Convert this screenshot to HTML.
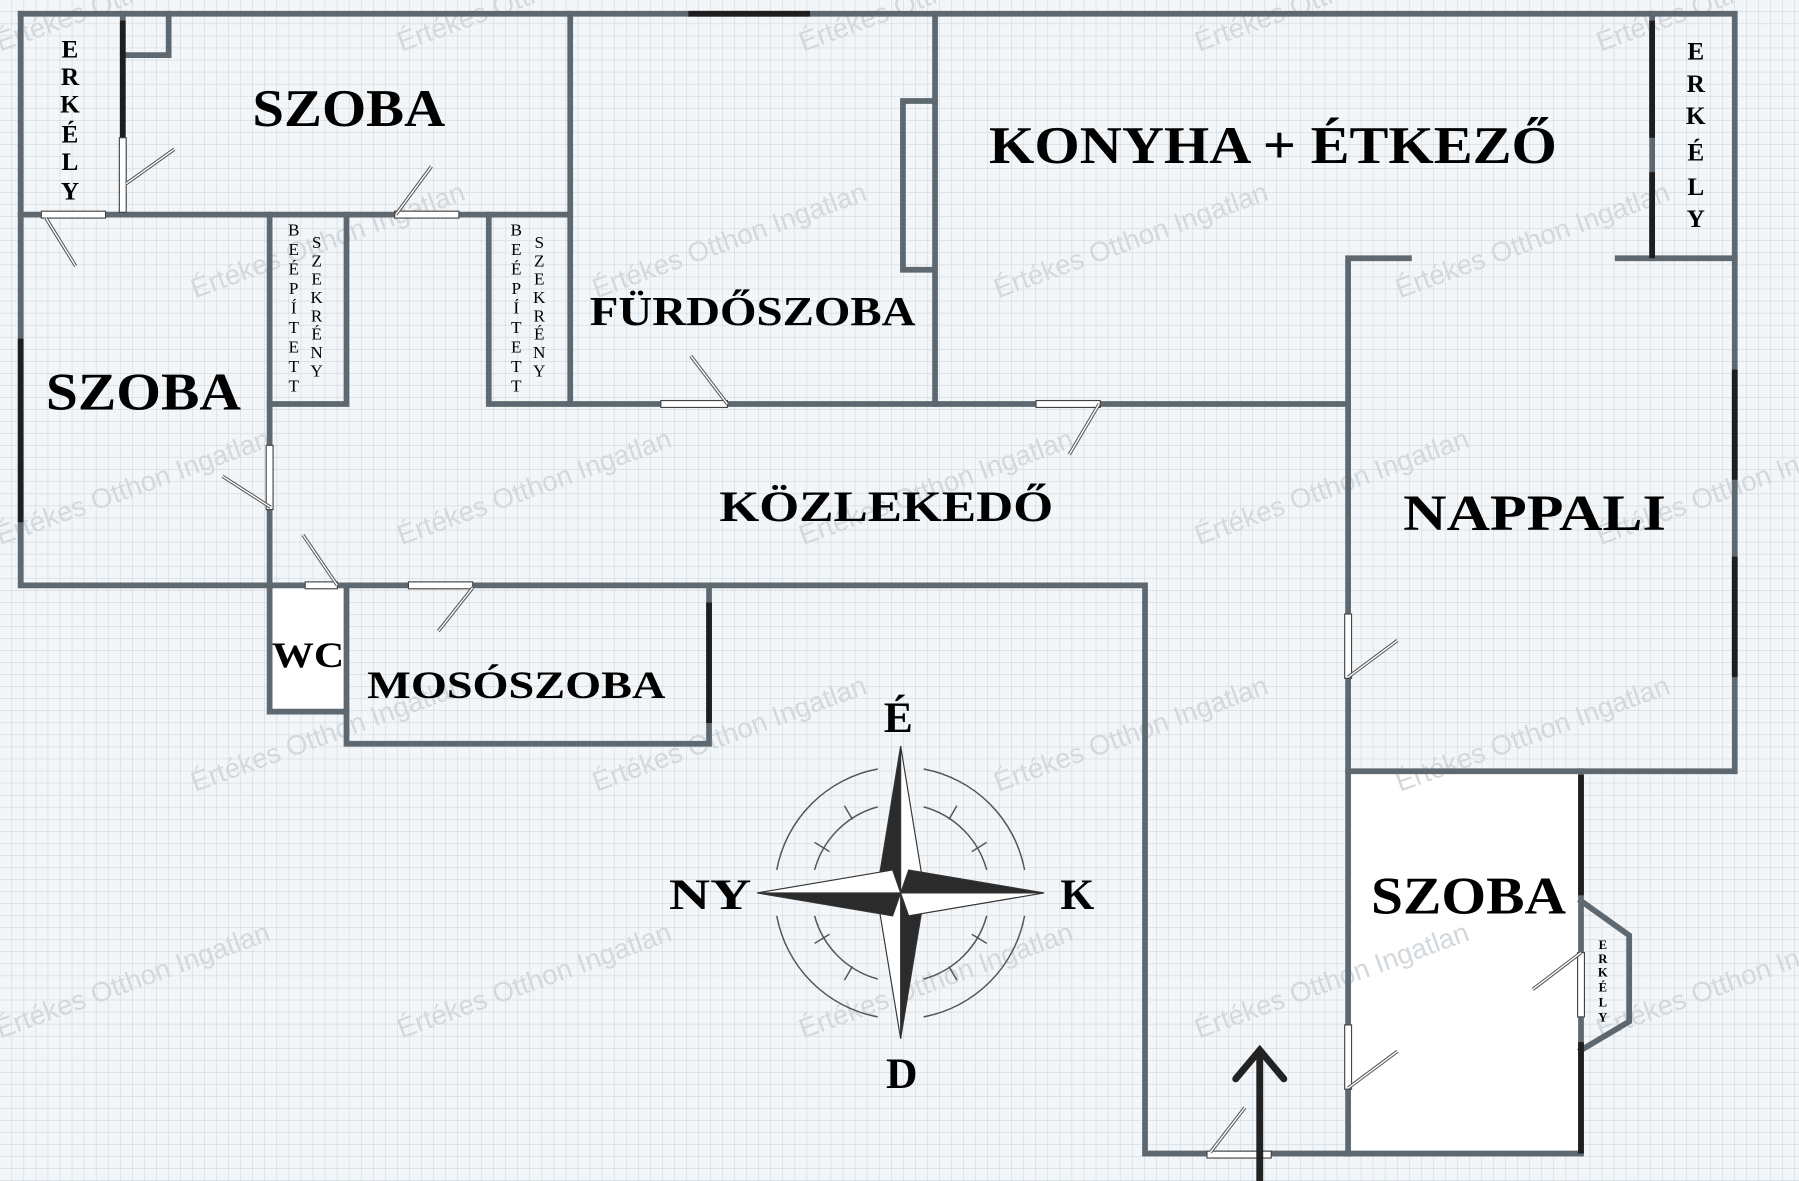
<!DOCTYPE html>
<html><head><meta charset="utf-8"><style>
html,body{margin:0;padding:0;background:#f3f6f8;}
svg{display:block}
.t{font-family:"Liberation Serif",serif;font-weight:bold;fill:#000}
.wm{font-family:"Liberation Sans",sans-serif;font-weight:normal;fill:#d3d8dc;font-size:24px}
</style></head><body>
<svg width="1799" height="1181" viewBox="0 0 1568 1029" preserveAspectRatio="none" xmlns="http://www.w3.org/2000/svg">
<defs>
<pattern id="g" width="10.5" height="10.5" patternUnits="userSpaceOnUse">
<rect width="10.5" height="10.5" fill="#f3f6f8"/>
<path d="M10.5 0V10.5H0" fill="none" stroke="#c5cfd6" stroke-width="0.8"/>
</pattern>
</defs>
<rect width="1568" height="1029" fill="url(#g)"/>
<rect x="1175" y="672" width="203" height="333" fill="#fff"/>
<rect x="235" y="510" width="67" height="110" fill="#fff"/>
<g class="wm">
<text x="0" y="45" transform="rotate(-20 0 45)">Értékes Otthon Ingatlan</text>
<text x="350" y="45" transform="rotate(-20 350 45)">Értékes Otthon Ingatlan</text>
<text x="700" y="45" transform="rotate(-20 700 45)">Értékes Otthon Ingatlan</text>
<text x="1045" y="45" transform="rotate(-20 1045 45)">Értékes Otthon Ingatlan</text>
<text x="1395" y="45" transform="rotate(-20 1395 45)">Értékes Otthon Ingatlan</text>
<text x="170" y="260" transform="rotate(-20 170 260)">Értékes Otthon Ingatlan</text>
<text x="520" y="260" transform="rotate(-20 520 260)">Értékes Otthon Ingatlan</text>
<text x="870" y="260" transform="rotate(-20 870 260)">Értékes Otthon Ingatlan</text>
<text x="1220" y="260" transform="rotate(-20 1220 260)">Értékes Otthon Ingatlan</text>
<text x="0" y="475" transform="rotate(-20 0 475)">Értékes Otthon Ingatlan</text>
<text x="350" y="475" transform="rotate(-20 350 475)">Értékes Otthon Ingatlan</text>
<text x="700" y="475" transform="rotate(-20 700 475)">Értékes Otthon Ingatlan</text>
<text x="1045" y="475" transform="rotate(-20 1045 475)">Értékes Otthon Ingatlan</text>
<text x="1395" y="475" transform="rotate(-20 1395 475)">Értékes Otthon Ingatlan</text>
<text x="170" y="690" transform="rotate(-20 170 690)">Értékes Otthon Ingatlan</text>
<text x="520" y="690" transform="rotate(-20 520 690)">Értékes Otthon Ingatlan</text>
<text x="870" y="690" transform="rotate(-20 870 690)">Értékes Otthon Ingatlan</text>
<text x="1220" y="690" transform="rotate(-20 1220 690)">Értékes Otthon Ingatlan</text>
<text x="0" y="905" transform="rotate(-20 0 905)">Értékes Otthon Ingatlan</text>
<text x="350" y="905" transform="rotate(-20 350 905)">Értékes Otthon Ingatlan</text>
<text x="700" y="905" transform="rotate(-20 700 905)">Értékes Otthon Ingatlan</text>
<text x="1045" y="905" transform="rotate(-20 1045 905)">Értékes Otthon Ingatlan</text>
<text x="1395" y="905" transform="rotate(-20 1395 905)">Értékes Otthon Ingatlan</text>
</g>
<g fill="none" stroke="#5d6870" stroke-width="5" stroke-linecap="square">
<path d="M18 12H1512V225"/>
<path d="M18 12V510H235"/>
<path d="M107 12V187"/>
<path d="M107 48H147V12"/>
<path d="M18 187H497"/>
<path d="M497 12V352"/>
<path d="M235 187V620H302V510"/>
<path d="M302 187V352H235"/>
<path d="M426 187V352H1175"/>
<path d="M815 12V352"/>
<path d="M812 88H787V235H812"/>
<path d="M1440 12V225"/>
<path d="M1175 1005V225H1228"/>
<path d="M1410 225H1512V672H1175"/>
<path d="M1378 672V1005H998V510H235"/>
<path d="M302 620V648H618V510"/>
<path d="M1378 785L1420 815V890L1378 915"/>
</g>
<g stroke="#1e1e1e" stroke-width="5">
<path d="M18 295V455"/>
<path d="M600 12H706"/>
<path d="M107 18V120"/>
<path d="M1440 18V120M1440 150V225"/>
<path d="M1512 322V418M1512 485V590"/>
<path d="M618 525V630"/>
<path d="M1378 675V780M1378 908V1005"/>
</g>
<g fill="#fff" stroke="#444" stroke-width="1">
<rect x="36" y="184" width="56" height="6"/>
<rect x="104" y="120" width="6" height="65"/>
<rect x="344" y="184" width="56" height="6"/>
<rect x="576" y="349" width="58" height="6"/>
<rect x="903" y="349" width="56" height="6"/>
<rect x="232" y="388" width="6" height="56"/>
<rect x="266" y="507" width="28" height="6"/>
<rect x="356" y="507" width="56" height="6"/>
<rect x="1172" y="535" width="6" height="56"/>
<rect x="1172" y="893" width="6" height="56"/>
<rect x="1375" y="830" width="6" height="56"/>
<rect x="1052" y="1003" width="56" height="6"/>
</g>
<g stroke="#555" stroke-width="3" fill="none">
<path d="M40 190L66 232M110 160L152 130M345 187L376 145M634 352L602 310M958 352L932 396M236 442L194 415M294 510L264 466M412 512L382 550M1175 590L1218 558M1175 948L1218 916M1378 830L1336 862M1055 1004L1085 965"/>
</g>
<g stroke="#fff" stroke-width="1.2" fill="none">
<path d="M40 190L66 232M110 160L152 130M345 187L376 145M634 352L602 310M958 352L932 396M236 442L194 415M294 510L264 466M412 512L382 550M1175 590L1218 558M1175 948L1218 916M1378 830L1336 862M1055 1004L1085 965"/>
</g>
<g stroke="#222" stroke-width="6" fill="none" stroke-linecap="round">
<path d="M1098 1029V915M1077 940L1098 915L1119 940"/>
</g>
<!-- compass rings: arcs avoiding cardinal axes -->
<g fill="none" stroke="#555" stroke-width="1.3">
<path d="M805 670A110 110 0 0 1 893 758"/>
<path d="M893 798A110 110 0 0 1 805 886"/>
<path d="M765 886A110 110 0 0 1 677 798"/>
<path d="M677 758A110 110 0 0 1 765 670"/>
<path d="M805 703A78 78 0 0 1 860 758"/>
<path d="M860 798A78 78 0 0 1 805 853"/>
<path d="M765 853A78 78 0 0 1 710 798"/>
<path d="M710 758A78 78 0 0 1 765 703"/>
<path d="M847 742L860 734M847 814L860 822M723 742L710 734M723 814L710 822M743 714L736 702M827 714L834 702M743 842L736 854M827 842L834 854"/>
</g>
<g stroke="#333" stroke-width="1">
<polygon points="785,650 765,772 785,778" fill="#2b2b2b"/>
<polygon points="785,650 805,772 785,778" fill="#fff"/>
<polygon points="785,905 805,784 785,778" fill="#2b2b2b"/>
<polygon points="785,905 765,784 785,778" fill="#fff"/>
<polygon points="910,778 792,758 785,778" fill="#2b2b2b"/>
<polygon points="910,778 792,798 785,778" fill="#fff"/>
<polygon points="660,778 778,798 785,778" fill="#2b2b2b"/>
<polygon points="660,778 778,758 785,778" fill="#fff"/>
</g>
<g class="t" font-size="38" text-anchor="middle">
<text x="783" y="638">É</text>
<text x="786" y="948">D</text>
<text x="619" y="792" textLength="72" lengthAdjust="spacingAndGlyphs">NY</text>
<text x="939" y="792">K</text>
</g>
<g class="t" lengthAdjust="spacingAndGlyphs">
<text x="220" y="110" font-size="46" textLength="168" lengthAdjust="spacingAndGlyphs">SZOBA</text>
<text x="40" y="357" font-size="46" textLength="170" lengthAdjust="spacingAndGlyphs">SZOBA</text>
<text x="862" y="142" font-size="46" textLength="495" lengthAdjust="spacingAndGlyphs">KONYHA + ÉTKEZŐ</text>
<text x="514" y="283" font-size="36" textLength="284" lengthAdjust="spacingAndGlyphs">FÜRDŐSZOBA</text>
<text x="627" y="454" font-size="38" textLength="291" lengthAdjust="spacingAndGlyphs">KÖZLEKEDŐ</text>
<text x="1223" y="462" font-size="44" textLength="229" lengthAdjust="spacingAndGlyphs">NAPPALI</text>
<text x="237" y="581" font-size="31" textLength="63" lengthAdjust="spacingAndGlyphs">WC</text>
<text x="320" y="608" font-size="34" textLength="260" lengthAdjust="spacingAndGlyphs">MOSÓSZOBA</text>
<text x="1195" y="796" font-size="46" textLength="170" lengthAdjust="spacingAndGlyphs">SZOBA</text>
</g>
<g class="t" font-size="22" text-anchor="middle">
<text x="61" y="50">E</text><text x="61" y="74">R</text><text x="61" y="98">K</text><text x="61" y="124">É</text><text x="61" y="148">L</text><text x="61" y="174">Y</text>
<text x="1478" y="52">E</text><text x="1478" y="80">R</text><text x="1478" y="108">K</text><text x="1478" y="140">É</text><text x="1478" y="170">L</text><text x="1478" y="198">Y</text>
</g>
<g class="t" font-size="11" text-anchor="middle">
<text x="1397" y="827">E</text><text x="1397" y="839">R</text><text x="1397" y="851">K</text><text x="1397" y="864">É</text><text x="1397" y="877">L</text><text x="1397" y="890">Y</text>
</g>
<g class="t" font-size="15" text-anchor="middle" style="font-weight:normal">
<text x="256" y="205">B</text><text x="256" y="222">E</text><text x="256" y="239">É</text><text x="256" y="256">P</text><text x="256" y="273">Í</text><text x="256" y="290">T</text><text x="256" y="307">E</text><text x="256" y="324">T</text><text x="256" y="341">T</text>
<text x="276" y="216">S</text><text x="276" y="232">Z</text><text x="276" y="248">E</text><text x="276" y="264">K</text><text x="276" y="280">R</text><text x="276" y="296">É</text><text x="276" y="312">N</text><text x="276" y="328">Y</text>
<text x="450" y="205">B</text><text x="450" y="222">E</text><text x="450" y="239">É</text><text x="450" y="256">P</text><text x="450" y="273">Í</text><text x="450" y="290">T</text><text x="450" y="307">E</text><text x="450" y="324">T</text><text x="450" y="341">T</text>
<text x="470" y="216">S</text><text x="470" y="232">Z</text><text x="470" y="248">E</text><text x="470" y="264">K</text><text x="470" y="280">R</text><text x="470" y="296">É</text><text x="470" y="312">N</text><text x="470" y="328">Y</text>
</g>
</svg>
</body></html>
